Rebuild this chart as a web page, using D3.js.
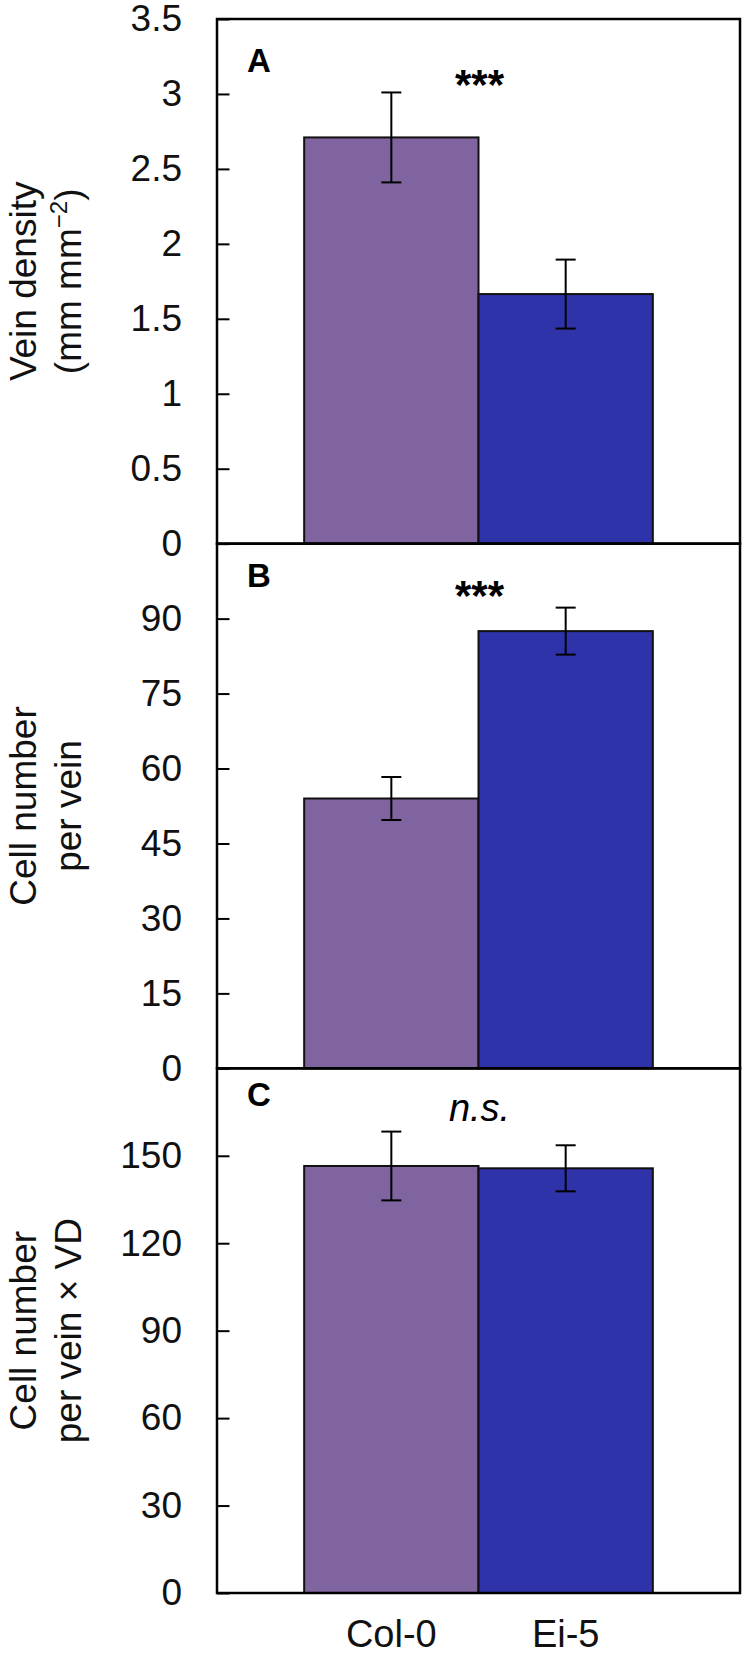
<!DOCTYPE html>
<html>
<head>
<meta charset="utf-8">
<script src="https://cdn.jsdelivr.net/npm/d3@7"></script>
<style>
  html, body { margin: 0; padding: 0; background: #fff; }
  svg { display: block; font-family: Arial, "Liberation Sans", sans-serif; }
</style>
</head>
<body>
<svg id="chart" width="749" height="1655"></svg>
<script>
// ---- data ----
const categories = ["Col-0", "Ei-5"];
const barColors = ["#7F64A0", "#2F33AA"];

const veinDensity = [2.71, 1.665];
const veinDensityErr = [0.30, 0.23];

const cellsPerVein = [54.0, 87.5];
const cellsPerVeinErr = [4.3, 4.7];

const cellsTimesVD = [146.5, 145.7];
const cellsTimesVDErr = [11.8, 7.9];

const ticksA = [0, 0.5, 1, 1.5, 2, 2.5, 3, 3.5];
const ticksB = [0, 15, 30, 45, 60, 75, 90];
const ticksC = [0, 30, 60, 90, 120, 150];

const panels = [
  { letter: "A", values: veinDensity, errs: veinDensityErr, max: 3.5, ticks: ticksA,
    sig: "***", italic: false, titleLines: ["Vein density", "(mm mm|−2|)"], letterY: 53, sigY: 80 },
  { letter: "B", values: cellsPerVein, errs: cellsPerVeinErr, max: 105, ticks: ticksB,
    sig: "***", italic: false, titleLines: ["Cell number", "per vein"], letterY: 43, sigY: 66 },
  { letter: "C", values: cellsTimesVD, errs: cellsTimesVDErr, max: 180, ticks: ticksC,
    sig: "n.s.", italic: true, titleLines: ["Cell number", "per vein × VD"], letterY: 38, sigY: 53 }
];

// ---- layout ----
const plotLeft = 217, plotRight = 740, plotTop = 19, plotBottom = 1593;
const ph = (plotBottom - plotTop) / 3;
const svg = d3.select("#chart");

const x = d3.scaleBand().domain(categories).range([plotLeft, plotRight]).paddingInner(0).paddingOuter(0.5);

panels.forEach((p, i) => {
  const y0 = plotTop + i * ph, y1 = y0 + ph;
  const y = d3.scaleLinear().domain([0, p.max]).range([y1, y0]);
  const g = svg.append("g");

  // bars
  g.selectAll("rect.bar").data(categories).enter().append("rect")
    .attr("x", d => x(d))
    .attr("width", x.bandwidth())
    .attr("y", (d, k) => y(p.values[k]))
    .attr("height", (d, k) => y(0) - y(p.values[k]))
    .attr("fill", (d, k) => barColors[k])
    .attr("stroke", "#111")
    .attr("stroke-width", 2);

  // error bars
  categories.forEach((c, k) => {
    const cx = x(c) + x.bandwidth() / 2;
    const hi = y(p.values[k] + p.errs[k]), lo = y(p.values[k] - p.errs[k]);
    g.append("line").attr("x1", cx).attr("x2", cx).attr("y1", hi).attr("y2", lo)
      .attr("stroke", "#000").attr("stroke-width", 2);
    [hi, lo].forEach(yy => g.append("line").attr("x1", cx - 10).attr("x2", cx + 10)
      .attr("y1", yy).attr("y2", yy).attr("stroke", "#000").attr("stroke-width", 2));
  });

  // axis (ticks inward)
  const ax = g.append("g").attr("transform", `translate(${plotLeft},0)`)
    .call(d3.axisLeft(y).tickValues(p.ticks).tickSize(-12.5).tickPadding(35)
      .tickFormat(d3.format("")));
  ax.select(".domain").remove();
  ax.selectAll(".tick line").attr("stroke", "#000").attr("stroke-width", 2);
  ax.selectAll(".tick text").attr("font-size", 37).attr("fill", "#111")
    .attr("font-family", "Arial, 'Liberation Sans', sans-serif");

  // frame
  g.append("rect").attr("x", plotLeft).attr("y", y0).attr("width", plotRight - plotLeft).attr("height", ph)
    .attr("fill", "none").attr("stroke", "#000").attr("stroke-width", 2.5);

  // panel letter
  g.append("text").attr("x", 247).attr("y", y0 + p.letterY)
    .attr("font-size", 33).attr("font-weight", "bold").attr("fill", "#000").text(p.letter);

  // significance
  g.append("text").attr("x", (plotLeft + plotRight) / 2 + 1).attr("y", y0 + p.sigY)
    .attr("text-anchor", "middle")
    .attr("font-size", p.italic ? 38 : 42)
    .attr("font-style", p.italic ? "italic" : "normal")
    .attr("font-weight", p.italic ? "normal" : "bold")
    .attr("fill", "#000").text(p.sig);

  // y title
  const cy = (y0 + y1) / 2;
  const t = g.append("text").attr("transform", `translate(0,${cy}) rotate(-90)`)
    .attr("text-anchor", "middle").attr("font-size", 37).attr("fill", "#111");
  p.titleLines.forEach((line, li) => {
    const parts = line.split("|");
    const ts = t.append("tspan").attr("x", 0).attr("y", li === 0 ? 36 : 81);
    if (parts.length === 1) {
      ts.text(line);
    } else {
      ts.text(parts[0]);
      t.append("tspan").attr("dy", -14).attr("font-size", 24).text(parts[1]);
      t.append("tspan").attr("dy", 14).text(parts[2]);
    }
  });
});

// category labels
svg.append("g").selectAll("text").data(categories).enter().append("text")
  .attr("x", d => x(d) + x.bandwidth() / 2)
  .attr("y", 1647)
  .attr("text-anchor", "middle")
  .attr("font-size", 38)
  .attr("fill", "#111")
  .text(d => d);
</script>
</body>
</html>
